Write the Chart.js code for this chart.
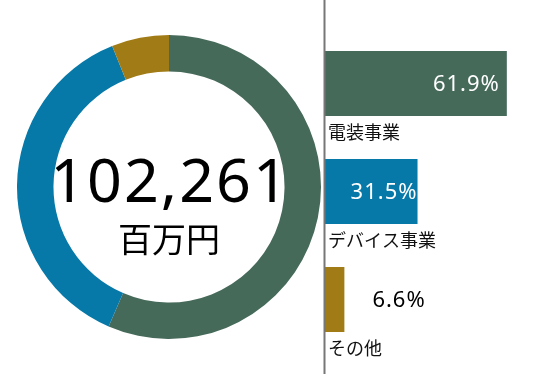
<!DOCTYPE html>
<html lang="ja">
<head>
<meta charset="utf-8">
<script src="https://cdn.jsdelivr.net/npm/chart.js@4"></script>
<style>
  html, body { margin: 0; padding: 0; background: #fff; }
  #wrap { position: relative; width: 560px; height: 374px; overflow: hidden; }
  #donutBox { position: absolute; left: 17px; top: 34.5px; width: 304px; height: 304px; }
  #barBox { position: absolute; left: 323px; top: 0; width: 237px; height: 374px; }
</style>
</head>
<body>
<div id="wrap">
  <div id="donutBox"><canvas id="donut"></canvas></div>
  <div id="barBox"><canvas id="bars"></canvas></div>
</div>
<script>
// данные
const segments = ['電装事業', 'デバイス事業', 'その他'];
const shares = [61.9, 31.5, 6.6];          // подписи на полосах, %
const donutShares = [56.5, 37.4, 6.1];     // доли кольца
const totalLabel = '102,261';
const unitLabel = '百万円';
const colors = ['#466a5a', '#0679a8', '#a17b16'];
const valueColors = ['#ffffff', '#ffffff', '#000000'];

// текст в центре кольца
const centerText = {
  id: 'centerText',
  afterDraw(chart) {
    const ctx = chart.ctx;
    const cx = (chart.chartArea.left + chart.chartArea.right) / 2;
    const cy = (chart.chartArea.top + chart.chartArea.bottom) / 2;
    ctx.save();
    ctx.fillStyle = '#000';
    ctx.textAlign = 'center';
    ctx.textBaseline = 'alphabetic';
    ctx.letterSpacing = '2px';
    ctx.font = '61px "Noto Sans", sans-serif';
    ctx.fillText(totalLabel, cx + 1, cy + 15);
    ctx.letterSpacing = '0px';
    ctx.font = '34px "Noto Sans CJK JP", sans-serif';
    ctx.fillText(unitLabel, cx, cy + 65);
    ctx.restore();
  },
};

// кольцо
new Chart(document.getElementById('donut'), {
  type: 'doughnut',
  data: {
    labels: segments,
    datasets: [{
      data: donutShares,
      backgroundColor: colors,
      borderWidth: 0,
    }],
  },
  options: {
    responsive: true,
    maintainAspectRatio: false,
    animation: false,
    cutout: '76%',
    plugins: { legend: { display: false }, tooltip: { enabled: false } },
  },
  plugins: [centerText],
});

// подписи и ось для полос
const barDecor = {
  id: 'barDecor',
  afterDatasetsDraw(chart) {
    const ctx = chart.ctx;
    const x0 = chart.scales.x.getPixelForValue(0);
    ctx.save();
    ctx.fillStyle = '#777';
    ctx.fillRect(x0 - 1.5, 0, 2, chart.height);

    chart.getDatasetMeta(0).data.forEach((bar, i) => {
      const half = bar.height / 2;
      const bottom = bar.y + half;

      // значение
      const vs = 22;
      ctx.font = `${vs}px "Noto Sans", sans-serif`;
      ctx.letterSpacing = '1px';
      ctx.fillStyle = valueColors[i];
      ctx.textBaseline = 'alphabetic';
      const txt = shares[i].toFixed(1) + '%';
      const by = bar.y + vs * 0.357;
      if (i < 2) {
        ctx.textAlign = 'right';
        ctx.fillText(txt, bar.x - (i === 0 ? 8 : 1) + 1, by);
      } else {
        ctx.textAlign = 'left';
        ctx.fillText(txt, bar.x + 28, by);
      }

      // категория
      const cs = 18;
      ctx.letterSpacing = '0px';
      ctx.font = `${cs}px "Noto Sans CJK JP", sans-serif`;
      ctx.fillStyle = '#111';
      ctx.textAlign = 'left';
      ctx.fillText(segments[i], x0 + 3, bottom + 16 + cs * 0.38);
    });
    ctx.restore();
  },
};

new Chart(document.getElementById('bars'), {
  type: 'bar',
  data: {
    labels: segments,
    datasets: [{
      data: shares,
      backgroundColor: colors,
      borderWidth: 0,
      categoryPercentage: 1,
      barPercentage: 0.6,
    }],
  },
  options: {
    indexAxis: 'y',
    responsive: true,
    maintainAspectRatio: false,
    animation: false,
    layout: { padding: { left: 2, right: 0, top: 29.5, bottom: 20.5 } },
    scales: {
      x: { display: false, min: 0, max: 80 },
      y: { display: false },
    },
    plugins: { legend: { display: false }, tooltip: { enabled: false } },
  },
  plugins: [barDecor],
});
</script>
</body>
</html>
